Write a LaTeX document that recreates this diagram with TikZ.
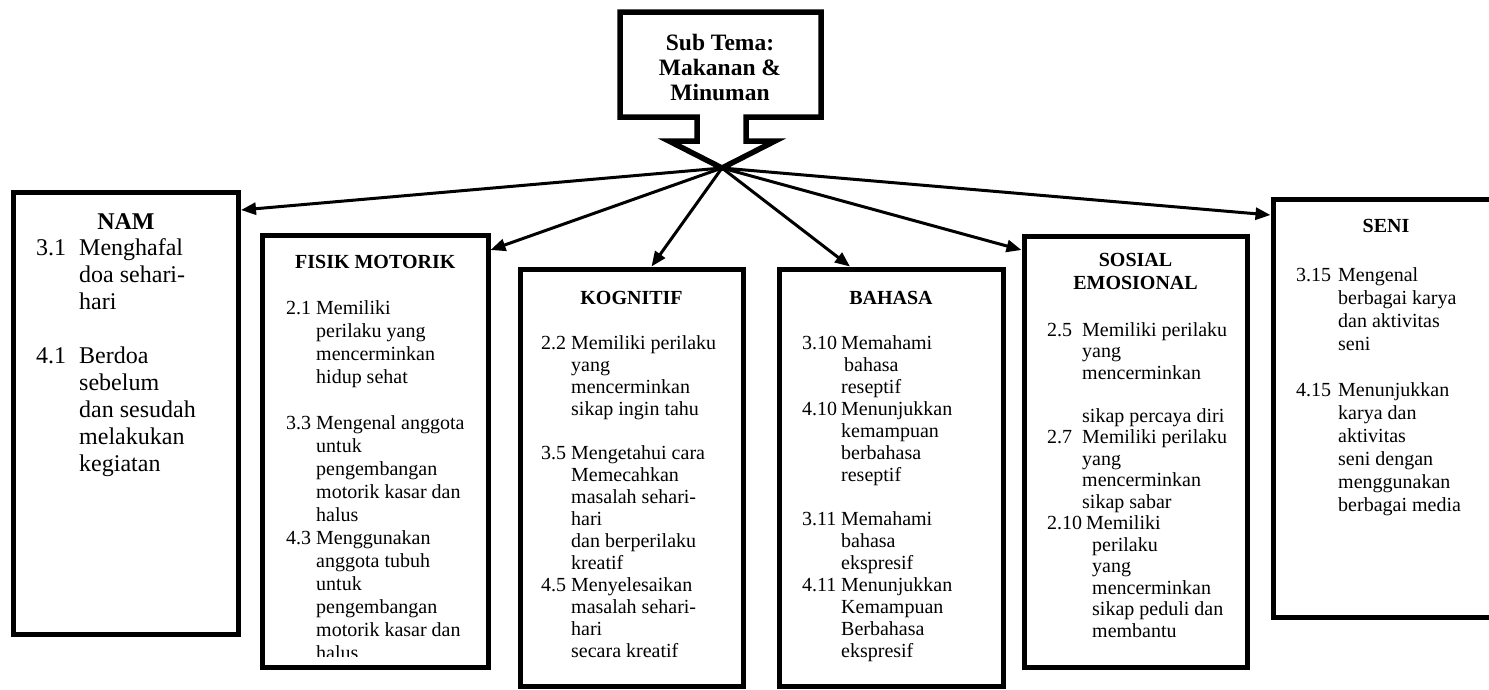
\documentclass[tikz,border=0pt]{standalone}
\usepackage{fontspec}
\setmainfont{Liberation Serif}
\usetikzlibrary{arrows.meta,calc}
\newcommand\bfnt{\fontsize{20}{23}\selectfont}
\newcommand\kfnt{\fontsize{20}{22}\selectfont}
\newcommand\sfnt{\fontsize{20}{21.5}\selectfont}
\newcommand\nfnt{\fontsize{24}{27}\selectfont}
\newcommand\tfnt{\fontsize{20}{23}\selectfont\bfseries}
\newcommand\cfnt{\fontsize{23.5}{25}\selectfont\bfseries}
\newcommand\nb[2]{\makebox[#1][l]{#2}}
\begin{document}
\begin{tikzpicture}[x=1pt,y=-1pt,
  bx/.style={draw, line width=5pt, rectangle, inner sep=0pt},
  conn/.style={line width=3pt, -{Triangle[length=15pt,width=12pt]}},
  bodytxt/.style={anchor=base west, inner sep=0pt},
  ttl/.style={anchor=base, inner sep=0pt, font=\tfnt},
  callout/.style={line width=5.5pt, line join=miter}]
\useasboundingbox (0,0) rectangle (1489,689);
\clip (0,0) rectangle (1489,689);

% callout
\coordinate (tip) at (722,168);
\draw[callout] (620,12) -- (821,12) -- (821,117) -- (746,117) -- (746,141) -- (775,141) -- (tip) -- (669,141) -- (697,141) -- (697,117) -- (620,117) -- cycle;
\node[anchor=base, inner sep=0pt, font=\cfnt] (sub) at (720,50) {\begin{tabular}[t]{@{}c@{}}Sub Tema:\\Makanan \&\\Minuman\end{tabular}};

% boxes
\node[bx, minimum width=225pt, minimum height=442pt] (nam) at (126,413) {};
\node[bx, minimum width=225.5pt, minimum height=432pt] (fis) at (375.25,451) {};
\node[bx, minimum width=223pt, minimum height=417pt] (kog) at (631.5,477.5) {};
\node[bx, minimum width=224pt, minimum height=417pt] (bah) at (891,477.5) {};
\node[bx, minimum width=223pt, minimum height=431pt] (sos) at (1135.5,451.5) {};
\node[bx, minimum width=226pt, minimum height=418pt] (sen) at (1386,408) {};

% connectors
\draw[conn] (tip) -- ($(nam.north east)+(0,20.5)$);
\draw[conn] (tip) -- ($(fis.north east)+(0,17.5)$);
\draw[conn] (tip) -- ($(kog.north)+(20,0)$);
\draw[conn] (tip) -- ($(bah.north)+(-41,0)$);
\draw[conn] (tip) -- ($(sos.north west)+(0,16.5)$);
\draw[conn] (tip) -- ($(sen.north west)+(0,18.5)$);

% titles
\node[ttl, font=\nfnt\bfseries] (namt) at (126,229) {NAM};
\node[ttl] (fist) at (375.25,268) {FISIK MOTORIK};
\node[ttl] (kogt) at (631.5,304) {KOGNITIF};
\node[ttl] (baht) at (891,304) {BAHASA};
\node[ttl] (sost) at (1135.5,266.5) {\begin{tabular}[t]{@{}c@{}}SOSIAL\\EMOSIONAL\end{tabular}};
\node[ttl] (sent) at (1386,232) {SENI};

% bodies
\node[bodytxt, font=\nfnt] (namb) at (36,255) {\begin{tabular}[t]{@{}l@{}l@{}}
\nb{43pt}{3.1}&Menghafal\\
&doa sehari-\\
&hari\\
&\\
4.1&Berdoa\\
&sebelum\\
&dan sesudah\\
&melakukan\\
&kegiatan
\end{tabular}};

\begin{scope}
\clip (262,235) rectangle (488,656);
\node[bodytxt, font=\bfnt] (fisb) at (286,314) {\begin{tabular}[t]{@{}l@{}l@{}}
\nb{30pt}{2.1}&Memiliki\\
&perilaku yang\\
&mencerminkan\\
&hidup sehat\\
&\\
3.3&Mengenal anggota\\
&untuk\\
&pengembangan\\
&motorik kasar dan\\
&halus\\
4.3&Menggunakan\\
&anggota tubuh\\
&untuk\\
&pengembangan\\
&motorik kasar dan\\
&halus
\end{tabular}};
\end{scope}

\node[bodytxt, font=\kfnt] (kogb) at (541,349) {\begin{tabular}[t]{@{}l@{}l@{}}
\nb{30pt}{2.2}&Memiliki perilaku\\
&yang\\
&mencerminkan\\
&sikap ingin tahu\\
&\\
3.5&Mengetahui cara\\
&Memecahkan\\
&masalah sehari-\\
&hari\\
&dan berperilaku\\
&kreatif\\
4.5&Menyelesaikan\\
&masalah sehari-\\
&hari\\
&secara kreatif
\end{tabular}};

\node[bodytxt, font=\kfnt] (bahb) at (802,349) {\begin{tabular}[t]{@{}l@{}l@{}}
\nb{39pt}{3.10}&Memahami\\
&\hspace{3pt}bahasa\\
&reseptif\\
4.10&Menunjukkan\\
&kemampuan\\
&berbahasa\\
&reseptif\\
&\\
3.11&Memahami\\
&bahasa\\
&ekspresif\\
4.11&Menunjukkan\\
&Kemampuan\\
&Berbahasa\\
&ekspresif
\end{tabular}};

\node[bodytxt, font=\sfnt] (sosb) at (1047,336) {\begin{tabular}[t]{@{}l@{}l@{}}
\nb{32pt}{2.5}&Memiliki perilaku\\
&yang\\
&mencerminkan\\
&\\
&sikap percaya diri\\
2.7&Memiliki perilaku\\
&yang\\
&mencerminkan\\
&sikap sabar\\
2.10&\hspace{4pt}Memiliki\\
&\hspace{10pt}perilaku\\
&\hspace{10pt}yang\\
&\hspace{10pt}mencerminkan\\
&\hspace{10pt}sikap peduli dan\\
&\hspace{10pt}membantu
\end{tabular}};

\node[bodytxt, font=\bfnt] (senb) at (1296,281) {\begin{tabular}[t]{@{}l@{}l@{}}
\nb{42pt}{3.15}&Mengenal\\
&berbagai karya\\
&dan aktivitas\\
&seni\\
&\\
4.15&Menunjukkan\\
&karya dan\\
&aktivitas\\
&seni dengan\\
&menggunakan\\
&berbagai media
\end{tabular}};
\end{tikzpicture}
\end{document}
